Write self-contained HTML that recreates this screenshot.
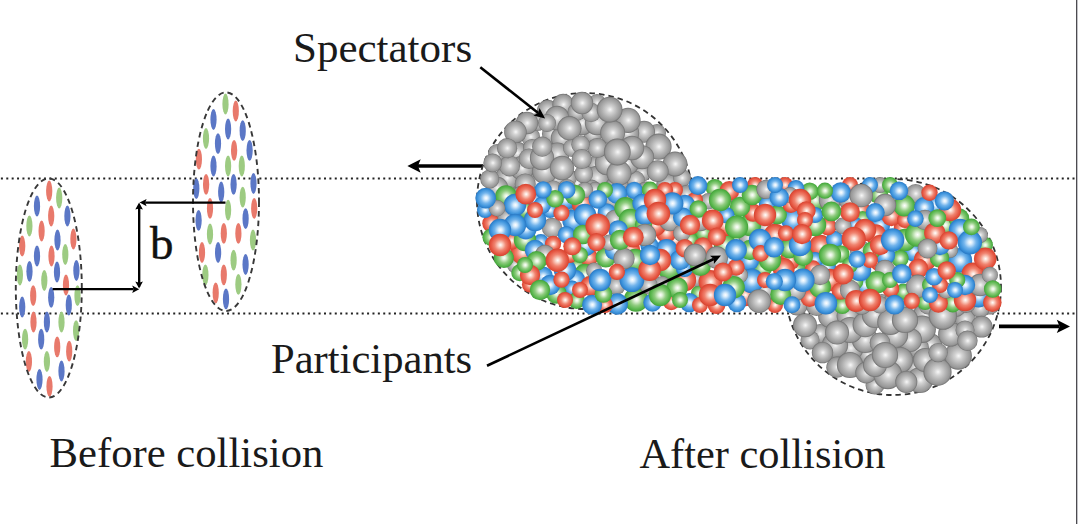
<!DOCTYPE html>
<html><head><meta charset="utf-8"><style>html,body{margin:0;padding:0;background:#fff;overflow:hidden}svg{display:block}</style></head>
<body><svg width="1078" height="524" viewBox="0 0 1078 524">
<defs><radialGradient id="g" cx="0.5" cy="0.5" r="0.5" fx="0.52" fy="0.5"><stop offset="0" stop-color="#f8f8f8"/><stop offset="0.25" stop-color="#d4d4d4"/><stop offset="0.6" stop-color="#b0b0b0"/><stop offset="0.88" stop-color="#969696"/><stop offset="1" stop-color="#6e6e6e"/></radialGradient><radialGradient id="r" cx="0.5" cy="0.5" r="0.5" fx="0.52" fy="0.5"><stop offset="0" stop-color="#ffffff"/><stop offset="0.18" stop-color="#fbd6ca"/><stop offset="0.5" stop-color="#f08470"/><stop offset="0.8" stop-color="#e65844"/><stop offset="1" stop-color="#d6432f"/></radialGradient><radialGradient id="n" cx="0.5" cy="0.5" r="0.5" fx="0.52" fy="0.5"><stop offset="0" stop-color="#ffffff"/><stop offset="0.18" stop-color="#e0f2d8"/><stop offset="0.5" stop-color="#90cc80"/><stop offset="0.8" stop-color="#5cb850"/><stop offset="1" stop-color="#43a239"/></radialGradient><radialGradient id="b" cx="0.5" cy="0.5" r="0.5" fx="0.52" fy="0.5"><stop offset="0" stop-color="#ffffff"/><stop offset="0.18" stop-color="#d8ecfc"/><stop offset="0.5" stop-color="#72b4ec"/><stop offset="0.8" stop-color="#3e94dc"/><stop offset="1" stop-color="#2978c4"/></radialGradient></defs>
<rect width="1078" height="524" fill="#fff"/>
<line x1="0" y1="178.5" x2="1075" y2="178.5" stroke="#222" stroke-width="2" stroke-dasharray="2 3.385" stroke-dashoffset="-0.9"/>
<line x1="0" y1="313.5" x2="1075" y2="313.5" stroke="#222" stroke-width="2" stroke-dasharray="2 3.385" stroke-dashoffset="-0.9"/>
<rect x="1076" y="0" width="1" height="524" fill="#4c4b50"/><rect x="1077" y="0" width="1" height="524" fill="#c2c2c6"/>
<ellipse cx="49.2" cy="191.0" rx="3.1" ry="10.4" fill="#e8796b"/>
<ellipse cx="59.2" cy="198.0" rx="3.1" ry="10.4" fill="#9dcb82"/>
<ellipse cx="37.0" cy="206.0" rx="3.1" ry="10.4" fill="#5b77c6"/>
<ellipse cx="51.2" cy="216.0" rx="3.1" ry="10.4" fill="#e8796b"/>
<ellipse cx="67.4" cy="216.0" rx="3.1" ry="10.4" fill="#5b77c6"/>
<ellipse cx="29.4" cy="226.0" rx="3.1" ry="10.4" fill="#9dcb82"/>
<ellipse cx="41.6" cy="231.0" rx="3.1" ry="10.4" fill="#e8796b"/>
<ellipse cx="57.5" cy="240.0" rx="3.1" ry="10.4" fill="#5b77c6"/>
<ellipse cx="73.4" cy="239.0" rx="3.1" ry="10.4" fill="#e8796b"/>
<ellipse cx="22.2" cy="246.0" rx="3.1" ry="10.4" fill="#e8796b"/>
<ellipse cx="37.0" cy="256.0" rx="3.1" ry="10.4" fill="#5b77c6"/>
<ellipse cx="51.5" cy="256.0" rx="3.1" ry="10.4" fill="#e8796b"/>
<ellipse cx="65.3" cy="254.5" rx="3.1" ry="10.4" fill="#9dcb82"/>
<ellipse cx="19.9" cy="275.0" rx="3.1" ry="10.4" fill="#9dcb82"/>
<ellipse cx="29.5" cy="271.3" rx="3.1" ry="10.4" fill="#5b77c6"/>
<ellipse cx="44.3" cy="280.5" rx="3.1" ry="10.4" fill="#9dcb82"/>
<ellipse cx="57.0" cy="272.0" rx="3.1" ry="10.4" fill="#5b77c6"/>
<ellipse cx="76.4" cy="270.5" rx="3.1" ry="10.4" fill="#5b77c6"/>
<ellipse cx="66.0" cy="285.0" rx="3.1" ry="10.4" fill="#e8796b"/>
<ellipse cx="33.2" cy="295.7" rx="3.1" ry="10.4" fill="#e8796b"/>
<ellipse cx="51.2" cy="297.3" rx="3.1" ry="10.4" fill="#5b77c6"/>
<ellipse cx="77.5" cy="295.7" rx="3.1" ry="10.4" fill="#9dcb82"/>
<ellipse cx="22.2" cy="307.0" rx="3.1" ry="10.4" fill="#5b77c6"/>
<ellipse cx="68.8" cy="305.0" rx="3.1" ry="10.4" fill="#5b77c6"/>
<ellipse cx="33.5" cy="322.0" rx="3.1" ry="10.4" fill="#e8796b"/>
<ellipse cx="46.9" cy="322.0" rx="3.1" ry="10.4" fill="#5b77c6"/>
<ellipse cx="61.5" cy="322.0" rx="3.1" ry="10.4" fill="#9dcb82"/>
<ellipse cx="25.1" cy="339.2" rx="3.1" ry="10.4" fill="#9dcb82"/>
<ellipse cx="41.2" cy="339.2" rx="3.1" ry="10.4" fill="#5b77c6"/>
<ellipse cx="76.1" cy="330.6" rx="3.1" ry="10.4" fill="#9dcb82"/>
<ellipse cx="57.2" cy="346.9" rx="3.1" ry="10.4" fill="#e8796b"/>
<ellipse cx="69.2" cy="351.2" rx="3.1" ry="10.4" fill="#e8796b"/>
<ellipse cx="28.9" cy="361.5" rx="3.1" ry="10.4" fill="#e8796b"/>
<ellipse cx="46.9" cy="361.5" rx="3.1" ry="10.4" fill="#9dcb82"/>
<ellipse cx="61.5" cy="371.0" rx="3.1" ry="10.4" fill="#5b77c6"/>
<ellipse cx="39.5" cy="379.5" rx="3.1" ry="10.4" fill="#5b77c6"/>
<ellipse cx="49.5" cy="386.4" rx="3.1" ry="10.4" fill="#e8796b"/>
<ellipse cx="48.8" cy="288" rx="33" ry="109.5" fill="none" stroke="#383838" stroke-width="1.9" stroke-dasharray="5.5 4"/>
<ellipse cx="225.5" cy="104.0" rx="3.1" ry="10.4" fill="#9dcb82"/>
<ellipse cx="235.8" cy="111.0" rx="3.1" ry="10.4" fill="#e8796b"/>
<ellipse cx="213.5" cy="119.5" rx="3.1" ry="10.4" fill="#5b77c6"/>
<ellipse cx="228.1" cy="129.0" rx="3.1" ry="10.4" fill="#5b77c6"/>
<ellipse cx="242.7" cy="130.7" rx="3.1" ry="10.4" fill="#5b77c6"/>
<ellipse cx="206.0" cy="138.5" rx="3.1" ry="10.4" fill="#9dcb82"/>
<ellipse cx="218.0" cy="143.6" rx="3.1" ry="10.4" fill="#5b77c6"/>
<ellipse cx="234.1" cy="150.4" rx="3.1" ry="10.4" fill="#e8796b"/>
<ellipse cx="249.6" cy="150.4" rx="3.1" ry="10.4" fill="#5b77c6"/>
<ellipse cx="198.9" cy="159.2" rx="3.1" ry="10.4" fill="#e8796b"/>
<ellipse cx="213.5" cy="166.0" rx="3.1" ry="10.4" fill="#5b77c6"/>
<ellipse cx="228.1" cy="166.0" rx="3.1" ry="10.4" fill="#9dcb82"/>
<ellipse cx="241.8" cy="166.0" rx="3.1" ry="10.4" fill="#9dcb82"/>
<ellipse cx="206.1" cy="184.4" rx="3.1" ry="10.4" fill="#e8796b"/>
<ellipse cx="196.3" cy="188.6" rx="3.1" ry="10.4" fill="#5b77c6"/>
<ellipse cx="233.6" cy="184.4" rx="3.1" ry="10.4" fill="#5b77c6"/>
<ellipse cx="253.5" cy="183.5" rx="3.1" ry="10.4" fill="#5b77c6"/>
<ellipse cx="221.2" cy="192.0" rx="3.1" ry="10.4" fill="#5b77c6"/>
<ellipse cx="242.7" cy="197.2" rx="3.1" ry="10.4" fill="#9dcb82"/>
<ellipse cx="210.0" cy="208.4" rx="3.1" ry="10.4" fill="#e8796b"/>
<ellipse cx="228.1" cy="210.1" rx="3.1" ry="10.4" fill="#9dcb82"/>
<ellipse cx="254.2" cy="208.4" rx="3.1" ry="10.4" fill="#e8796b"/>
<ellipse cx="198.6" cy="220.4" rx="3.1" ry="10.4" fill="#5b77c6"/>
<ellipse cx="245.6" cy="218.7" rx="3.1" ry="10.4" fill="#5b77c6"/>
<ellipse cx="210.0" cy="234.0" rx="3.1" ry="10.4" fill="#9dcb82"/>
<ellipse cx="223.8" cy="233.4" rx="3.1" ry="10.4" fill="#e8796b"/>
<ellipse cx="238.4" cy="233.4" rx="3.1" ry="10.4" fill="#e8796b"/>
<ellipse cx="253.0" cy="240.0" rx="3.1" ry="10.4" fill="#9dcb82"/>
<ellipse cx="202.0" cy="252.5" rx="3.1" ry="10.4" fill="#e8796b"/>
<ellipse cx="218.1" cy="252.5" rx="3.1" ry="10.4" fill="#5b77c6"/>
<ellipse cx="233.6" cy="260.2" rx="3.1" ry="10.4" fill="#9dcb82"/>
<ellipse cx="245.6" cy="264.5" rx="3.1" ry="10.4" fill="#5b77c6"/>
<ellipse cx="205.4" cy="274.8" rx="3.1" ry="10.4" fill="#9dcb82"/>
<ellipse cx="223.8" cy="274.8" rx="3.1" ry="10.4" fill="#e8796b"/>
<ellipse cx="238.4" cy="284.3" rx="3.1" ry="10.4" fill="#9dcb82"/>
<ellipse cx="215.7" cy="292.8" rx="3.1" ry="10.4" fill="#e8796b"/>
<ellipse cx="226.0" cy="298.9" rx="3.1" ry="10.4" fill="#5b77c6"/>
<ellipse cx="226" cy="201.7" rx="33" ry="109.3" fill="none" stroke="#383838" stroke-width="1.9" stroke-dasharray="5.5 4"/>
<line x1="52.7" y1="289.2" x2="133.6" y2="289.2" stroke="#000" stroke-width="2.3"/><path d="M139.2,289.2 L132.2,292.9 L133.6,289.2 L132.2,285.5 Z" fill="#000"/>
<line x1="139.1" y1="287" x2="139.1" y2="208.4" stroke="#000" stroke-width="2.2"/><path d="M139.1,202.6 L142.9,209.6 L139.1,208.4 L135.3,209.6 Z" fill="#000"/>
<line x1="139.1" y1="205" x2="139.1" y2="282.8" stroke="#000" stroke-width="2.2"/><path d="M139.1,288.6 L135.3,281.6 L139.1,282.8 L142.9,281.6 Z" fill="#000"/>
<line x1="225.5" y1="202.6" x2="145.2" y2="202.6" stroke="#000" stroke-width="2.3"/><path d="M139.6,202.6 L146.6,199.0 L145.2,202.6 L146.6,206.2 Z" fill="#000"/>
<text x="150" y="259" font-family="'Liberation Serif', serif" font-size="47" fill="#111" stroke="#111" stroke-width="0.4">b</text>
<line x1="483" y1="166" x2="417.9" y2="166.0" stroke="#000" stroke-width="3.6"/><path d="M407.4,166.0 L420.7,159.2 L417.9,166.0 L420.7,172.8 Z" fill="#000"/>
<circle cx="585" cy="201" r="108" fill="none" stroke="#333" stroke-width="1.8" stroke-dasharray="5.5 4"/>
<circle cx="893" cy="287" r="108" fill="none" stroke="#333" stroke-width="1.8" stroke-dasharray="5.5 4"/>
<circle cx="642.0" cy="173.0" r="9.0" fill="url(#g)"/>
<circle cx="592.8" cy="134.0" r="9.3" fill="url(#g)"/>
<circle cx="497.0" cy="153.0" r="9.0" fill="url(#g)"/>
<circle cx="552.0" cy="133.8" r="10.1" fill="url(#g)"/>
<circle cx="562.0" cy="138.0" r="11.2" fill="url(#g)"/>
<circle cx="596.1" cy="164.8" r="9.1" fill="url(#g)"/>
<circle cx="577.0" cy="183.0" r="12.2" fill="url(#g)"/>
<circle cx="602.0" cy="193.0" r="11.2" fill="url(#g)"/>
<circle cx="567.3" cy="177.8" r="9.5" fill="url(#g)"/>
<circle cx="547.6" cy="110.4" r="10.6" fill="url(#g)"/>
<circle cx="557.0" cy="178.0" r="9.0" fill="url(#g)"/>
<circle cx="582.0" cy="123.0" r="12.2" fill="url(#g)"/>
<circle cx="597.0" cy="103.0" r="9.0" fill="url(#g)"/>
<circle cx="517.0" cy="153.0" r="11.2" fill="url(#g)"/>
<circle cx="682.8" cy="197.4" r="9.7" fill="url(#g)"/>
<circle cx="530.5" cy="136.8" r="9.6" fill="url(#g)"/>
<circle cx="667.8" cy="184.8" r="11.5" fill="url(#g)"/>
<circle cx="597.0" cy="178.0" r="12.2" fill="url(#g)"/>
<circle cx="537.0" cy="183.0" r="12.2" fill="url(#g)"/>
<circle cx="657.0" cy="133.0" r="9.0" fill="url(#g)"/>
<circle cx="509.6" cy="194.3" r="9.6" fill="url(#g)"/>
<circle cx="507.0" cy="178.0" r="12.2" fill="url(#g)"/>
<circle cx="490.5" cy="196.0" r="9.2" fill="url(#g)"/>
<circle cx="607.0" cy="163.0" r="12.2" fill="url(#g)"/>
<circle cx="497.0" cy="188.0" r="11.2" fill="url(#g)"/>
<circle cx="489.7" cy="179.0" r="9.5" fill="url(#g)"/>
<circle cx="635.4" cy="180.1" r="9.4" fill="url(#g)"/>
<circle cx="522.0" cy="168.0" r="12.2" fill="url(#g)"/>
<circle cx="682.0" cy="178.0" r="9.0" fill="url(#g)"/>
<circle cx="644.0" cy="131.8" r="11.0" fill="url(#g)"/>
<circle cx="544.8" cy="170.9" r="12.9" fill="url(#g)"/>
<circle cx="563.2" cy="104.6" r="10.8" fill="url(#g)"/>
<circle cx="597.0" cy="123.0" r="12.2" fill="url(#g)"/>
<circle cx="532.0" cy="148.0" r="9.0" fill="url(#g)"/>
<circle cx="509.6" cy="165.9" r="10.5" fill="url(#g)"/>
<circle cx="557.0" cy="118.0" r="12.2" fill="url(#g)"/>
<circle cx="627.0" cy="133.0" r="12.2" fill="url(#g)"/>
<circle cx="658.5" cy="146.7" r="13.1" fill="url(#g)"/>
<circle cx="577.0" cy="198.0" r="12.2" fill="url(#g)"/>
<circle cx="576.7" cy="111.8" r="9.1" fill="url(#g)"/>
<circle cx="562.7" cy="202.3" r="11.6" fill="url(#g)"/>
<circle cx="529.0" cy="158.7" r="10.3" fill="url(#g)"/>
<circle cx="627.0" cy="163.0" r="12.2" fill="url(#g)"/>
<circle cx="537.4" cy="122.0" r="9.1" fill="url(#g)"/>
<circle cx="667.7" cy="201.4" r="9.6" fill="url(#g)"/>
<circle cx="553.2" cy="189.5" r="9.1" fill="url(#g)"/>
<circle cx="612.5" cy="199.1" r="10.0" fill="url(#g)"/>
<circle cx="557.4" cy="154.3" r="11.9" fill="url(#g)"/>
<circle cx="591.1" cy="112.5" r="9.7" fill="url(#g)"/>
<circle cx="492.6" cy="162.9" r="9.3" fill="url(#g)"/>
<circle cx="628.0" cy="120.3" r="12.6" fill="url(#g)"/>
<circle cx="572.0" cy="148.0" r="9.0" fill="url(#g)"/>
<circle cx="675.0" cy="164.0" r="12.4" fill="url(#g)"/>
<circle cx="631.9" cy="202.8" r="9.4" fill="url(#g)"/>
<circle cx="582.0" cy="103.0" r="11.2" fill="url(#g)"/>
<circle cx="542.0" cy="158.0" r="12.2" fill="url(#g)"/>
<circle cx="562.0" cy="168.0" r="12.2" fill="url(#g)"/>
<circle cx="567.0" cy="188.0" r="9.0" fill="url(#g)"/>
<circle cx="590.4" cy="191.0" r="11.6" fill="url(#g)"/>
<circle cx="547.0" cy="123.0" r="9.0" fill="url(#g)"/>
<circle cx="646.3" cy="193.5" r="12.0" fill="url(#g)"/>
<circle cx="612.6" cy="132.8" r="12.5" fill="url(#g)"/>
<circle cx="597.2" cy="148.0" r="10.1" fill="url(#g)"/>
<circle cx="527.0" cy="123.0" r="11.2" fill="url(#g)"/>
<circle cx="525.2" cy="183.9" r="10.5" fill="url(#g)"/>
<circle cx="617.0" cy="188.0" r="12.2" fill="url(#g)"/>
<circle cx="619.0" cy="173.2" r="12.4" fill="url(#g)"/>
<circle cx="642.1" cy="157.2" r="12.0" fill="url(#g)"/>
<circle cx="569.4" cy="128.2" r="12.1" fill="url(#g)"/>
<circle cx="522.0" cy="198.0" r="12.2" fill="url(#g)"/>
<circle cx="539.2" cy="202.8" r="12.3" fill="url(#g)"/>
<circle cx="580.5" cy="144.5" r="9.2" fill="url(#g)"/>
<circle cx="515.4" cy="131.9" r="11.3" fill="url(#g)"/>
<circle cx="583.7" cy="173.8" r="9.4" fill="url(#g)"/>
<circle cx="542.2" cy="146.7" r="10.1" fill="url(#g)"/>
<circle cx="609.6" cy="109.6" r="12.9" fill="url(#g)"/>
<circle cx="632.0" cy="193.0" r="9.0" fill="url(#g)"/>
<circle cx="581.8" cy="159.0" r="10.1" fill="url(#g)"/>
<circle cx="657.7" cy="171.1" r="10.9" fill="url(#g)"/>
<circle cx="632.0" cy="148.0" r="12.2" fill="url(#g)"/>
<circle cx="507.1" cy="148.2" r="10.1" fill="url(#g)"/>
<circle cx="617.3" cy="152.0" r="13.4" fill="url(#g)"/>
<circle cx="881.8" cy="304.4" r="10.4" fill="url(#g)"/>
<circle cx="930.0" cy="345.0" r="12.0" fill="url(#g)"/>
<circle cx="867.6" cy="354.5" r="9.5" fill="url(#g)"/>
<circle cx="835.0" cy="305.0" r="12.0" fill="url(#g)"/>
<circle cx="850.4" cy="348.1" r="13.1" fill="url(#g)"/>
<circle cx="912.0" cy="307.4" r="11.7" fill="url(#g)"/>
<circle cx="925.0" cy="315.0" r="12.0" fill="url(#g)"/>
<circle cx="958.1" cy="355.9" r="13.8" fill="url(#g)"/>
<circle cx="918.4" cy="347.9" r="10.6" fill="url(#g)"/>
<circle cx="820.0" cy="333.8" r="9.7" fill="url(#g)"/>
<circle cx="835.0" cy="345.0" r="13.1" fill="url(#g)"/>
<circle cx="916.0" cy="367.7" r="11.5" fill="url(#g)"/>
<circle cx="895.0" cy="305.0" r="13.1" fill="url(#g)"/>
<circle cx="990.0" cy="305.0" r="9.5" fill="url(#g)"/>
<circle cx="797.1" cy="304.7" r="10.8" fill="url(#g)"/>
<circle cx="865.0" cy="340.0" r="13.1" fill="url(#g)"/>
<circle cx="829.9" cy="316.2" r="11.7" fill="url(#g)"/>
<circle cx="847.9" cy="315.8" r="11.3" fill="url(#g)"/>
<circle cx="895.2" cy="348.4" r="11.1" fill="url(#g)"/>
<circle cx="965.2" cy="319.0" r="10.6" fill="url(#g)"/>
<circle cx="875.0" cy="385.0" r="9.5" fill="url(#g)"/>
<circle cx="920.0" cy="380.0" r="13.1" fill="url(#g)"/>
<circle cx="928.4" cy="304.3" r="10.3" fill="url(#g)"/>
<circle cx="850.0" cy="330.0" r="13.1" fill="url(#g)"/>
<circle cx="810.0" cy="340.0" r="9.5" fill="url(#g)"/>
<circle cx="922.2" cy="329.2" r="13.7" fill="url(#g)"/>
<circle cx="925.0" cy="360.0" r="12.0" fill="url(#g)"/>
<circle cx="955.0" cy="305.0" r="12.0" fill="url(#g)"/>
<circle cx="910.0" cy="340.0" r="12.0" fill="url(#g)"/>
<circle cx="836.9" cy="367.2" r="10.6" fill="url(#g)"/>
<circle cx="816.5" cy="305.4" r="10.6" fill="url(#g)"/>
<circle cx="950.5" cy="334.2" r="12.4" fill="url(#g)"/>
<circle cx="980.1" cy="308.1" r="9.6" fill="url(#g)"/>
<circle cx="822.5" cy="352.6" r="10.7" fill="url(#g)"/>
<circle cx="900.0" cy="360.0" r="13.1" fill="url(#g)"/>
<circle cx="865.2" cy="324.7" r="12.6" fill="url(#g)"/>
<circle cx="895.0" cy="335.0" r="13.1" fill="url(#g)"/>
<circle cx="880.0" cy="342.8" r="10.3" fill="url(#g)"/>
<circle cx="875.0" cy="315.0" r="13.1" fill="url(#g)"/>
<circle cx="850.0" cy="365.0" r="13.1" fill="url(#g)"/>
<circle cx="866.1" cy="372.6" r="10.8" fill="url(#g)"/>
<circle cx="837.0" cy="332.6" r="12.0" fill="url(#g)"/>
<circle cx="942.8" cy="315.6" r="14.2" fill="url(#g)"/>
<circle cx="861.7" cy="304.4" r="10.3" fill="url(#g)"/>
<circle cx="937.5" cy="371.9" r="14.1" fill="url(#g)"/>
<circle cx="981.6" cy="326.7" r="10.9" fill="url(#g)"/>
<circle cx="965.0" cy="330.0" r="9.5" fill="url(#g)"/>
<circle cx="887.8" cy="374.8" r="14.4" fill="url(#g)"/>
<circle cx="966.1" cy="302.5" r="10.4" fill="url(#g)"/>
<circle cx="906.3" cy="381.9" r="11.0" fill="url(#g)"/>
<circle cx="967.4" cy="340.8" r="10.2" fill="url(#g)"/>
<circle cx="938.1" cy="352.6" r="9.7" fill="url(#g)"/>
<circle cx="805.0" cy="325.2" r="12.0" fill="url(#g)"/>
<circle cx="875.0" cy="365.0" r="12.0" fill="url(#g)"/>
<circle cx="885.0" cy="355.0" r="13.1" fill="url(#g)"/>
<circle cx="890.3" cy="321.9" r="13.1" fill="url(#g)"/>
<circle cx="905.0" cy="320.0" r="13.1" fill="url(#g)"/>
<circle cx="616.3" cy="285.7" r="9.3" fill="url(#g)"/>
<circle cx="795.0" cy="270.0" r="11.2" fill="url(#n)"/>
<circle cx="880.0" cy="225.0" r="10.2" fill="url(#b)"/>
<circle cx="865.0" cy="285.0" r="11.2" fill="url(#b)"/>
<circle cx="576.4" cy="267.1" r="9.4" fill="url(#n)"/>
<circle cx="903.4" cy="291.7" r="8.1" fill="url(#n)"/>
<circle cx="765.0" cy="290.0" r="11.2" fill="url(#g)"/>
<circle cx="826.5" cy="267.4" r="9.6" fill="url(#b)"/>
<circle cx="855.2" cy="281.5" r="8.1" fill="url(#n)"/>
<circle cx="699.1" cy="293.4" r="8.2" fill="url(#n)"/>
<circle cx="820.4" cy="246.1" r="11.4" fill="url(#r)"/>
<circle cx="675.0" cy="240.0" r="10.2" fill="url(#r)"/>
<circle cx="913.3" cy="251.7" r="9.7" fill="url(#b)"/>
<circle cx="714.8" cy="188.0" r="9.1" fill="url(#n)"/>
<circle cx="879.0" cy="262.5" r="8.7" fill="url(#r)"/>
<circle cx="695.7" cy="278.7" r="8.0" fill="url(#g)"/>
<circle cx="710.4" cy="281.8" r="11.9" fill="url(#r)"/>
<circle cx="902.2" cy="228.1" r="8.5" fill="url(#r)"/>
<circle cx="762.1" cy="268.3" r="9.8" fill="url(#n)"/>
<circle cx="552.1" cy="227.9" r="10.2" fill="url(#g)"/>
<circle cx="749.0" cy="260.6" r="10.2" fill="url(#b)"/>
<circle cx="491.6" cy="223.3" r="9.4" fill="url(#r)"/>
<circle cx="900.0" cy="258.5" r="8.7" fill="url(#n)"/>
<circle cx="745.0" cy="295.0" r="11.2" fill="url(#r)"/>
<circle cx="725.0" cy="245.0" r="11.2" fill="url(#n)"/>
<circle cx="540.9" cy="242.3" r="8.2" fill="url(#b)"/>
<circle cx="925.0" cy="260.0" r="11.2" fill="url(#r)"/>
<circle cx="589.1" cy="257.7" r="9.0" fill="url(#r)"/>
<circle cx="891.5" cy="216.2" r="10.0" fill="url(#r)"/>
<circle cx="515.0" cy="265.0" r="8.0" fill="url(#g)"/>
<circle cx="606.7" cy="212.2" r="9.0" fill="url(#b)"/>
<circle cx="815.0" cy="260.0" r="8.0" fill="url(#b)"/>
<circle cx="703.4" cy="232.6" r="8.6" fill="url(#n)"/>
<circle cx="666.1" cy="232.7" r="10.3" fill="url(#r)"/>
<circle cx="700.0" cy="220.0" r="11.2" fill="url(#g)"/>
<circle cx="585.0" cy="275.0" r="11.2" fill="url(#n)"/>
<circle cx="522.4" cy="252.3" r="12.1" fill="url(#r)"/>
<circle cx="878.7" cy="194.6" r="9.5" fill="url(#n)"/>
<circle cx="978.5" cy="296.4" r="11.0" fill="url(#b)"/>
<circle cx="925.1" cy="301.8" r="8.3" fill="url(#n)"/>
<circle cx="815.0" cy="200.0" r="11.2" fill="url(#n)"/>
<circle cx="655.0" cy="225.0" r="11.2" fill="url(#r)"/>
<circle cx="860.0" cy="210.0" r="10.2" fill="url(#r)"/>
<circle cx="636.1" cy="299.5" r="12.2" fill="url(#n)"/>
<circle cx="685.0" cy="280.0" r="11.2" fill="url(#r)"/>
<circle cx="530.0" cy="284.4" r="8.1" fill="url(#r)"/>
<circle cx="506.7" cy="218.2" r="9.2" fill="url(#g)"/>
<circle cx="670.0" cy="220.0" r="11.2" fill="url(#g)"/>
<circle cx="830.0" cy="280.0" r="11.2" fill="url(#r)"/>
<circle cx="749.1" cy="237.8" r="10.5" fill="url(#g)"/>
<circle cx="905.0" cy="220.0" r="8.0" fill="url(#r)"/>
<circle cx="905.0" cy="240.0" r="11.2" fill="url(#n)"/>
<circle cx="511.7" cy="240.6" r="9.1" fill="url(#r)"/>
<circle cx="809.7" cy="297.7" r="9.2" fill="url(#r)"/>
<circle cx="669.1" cy="267.9" r="11.9" fill="url(#n)"/>
<circle cx="765.6" cy="227.4" r="10.2" fill="url(#g)"/>
<circle cx="785.0" cy="185.0" r="8.0" fill="url(#r)"/>
<circle cx="860.0" cy="250.0" r="10.2" fill="url(#g)"/>
<circle cx="880.0" cy="185.0" r="8.0" fill="url(#g)"/>
<circle cx="740.0" cy="195.0" r="11.2" fill="url(#g)"/>
<circle cx="716.5" cy="305.1" r="8.9" fill="url(#r)"/>
<circle cx="525.0" cy="240.0" r="11.2" fill="url(#n)"/>
<circle cx="575.0" cy="280.0" r="10.2" fill="url(#b)"/>
<circle cx="862.6" cy="219.8" r="8.9" fill="url(#n)"/>
<circle cx="573.4" cy="220.6" r="11.1" fill="url(#b)"/>
<circle cx="952.8" cy="302.9" r="9.5" fill="url(#n)"/>
<circle cx="652.5" cy="302.6" r="9.2" fill="url(#b)"/>
<circle cx="684.6" cy="268.4" r="8.7" fill="url(#b)"/>
<circle cx="565.0" cy="200.0" r="10.2" fill="url(#b)"/>
<circle cx="690.0" cy="240.0" r="8.0" fill="url(#n)"/>
<circle cx="686.5" cy="194.8" r="9.7" fill="url(#g)"/>
<circle cx="965.0" cy="300.0" r="11.2" fill="url(#r)"/>
<circle cx="506.1" cy="196.2" r="10.9" fill="url(#n)"/>
<circle cx="615.0" cy="220.0" r="10.2" fill="url(#g)"/>
<circle cx="830.0" cy="200.0" r="11.2" fill="url(#g)"/>
<circle cx="572.0" cy="288.7" r="8.1" fill="url(#b)"/>
<circle cx="885.0" cy="255.0" r="10.2" fill="url(#b)"/>
<circle cx="850.0" cy="200.0" r="11.2" fill="url(#g)"/>
<circle cx="524.8" cy="209.5" r="9.5" fill="url(#n)"/>
<circle cx="890.7" cy="288.7" r="8.6" fill="url(#r)"/>
<circle cx="634.2" cy="190.4" r="8.7" fill="url(#b)"/>
<circle cx="730.0" cy="260.0" r="10.2" fill="url(#b)"/>
<circle cx="519.8" cy="272.8" r="8.5" fill="url(#n)"/>
<circle cx="725.0" cy="225.0" r="11.2" fill="url(#r)"/>
<circle cx="842.3" cy="305.4" r="8.7" fill="url(#n)"/>
<circle cx="935.0" cy="205.0" r="10.2" fill="url(#b)"/>
<circle cx="595.0" cy="190.0" r="8.0" fill="url(#g)"/>
<circle cx="938.4" cy="303.2" r="9.5" fill="url(#r)"/>
<circle cx="750.0" cy="225.0" r="11.2" fill="url(#n)"/>
<circle cx="790.0" cy="260.0" r="10.2" fill="url(#r)"/>
<circle cx="666.5" cy="249.9" r="11.0" fill="url(#b)"/>
<circle cx="617.2" cy="304.0" r="10.7" fill="url(#b)"/>
<circle cx="751.5" cy="280.8" r="12.3" fill="url(#b)"/>
<circle cx="543.0" cy="276.4" r="10.0" fill="url(#b)"/>
<circle cx="775.0" cy="235.0" r="11.2" fill="url(#r)"/>
<circle cx="550.0" cy="210.0" r="8.0" fill="url(#b)"/>
<circle cx="689.4" cy="302.6" r="9.7" fill="url(#b)"/>
<circle cx="809.7" cy="191.2" r="8.8" fill="url(#n)"/>
<circle cx="681.7" cy="233.1" r="8.6" fill="url(#g)"/>
<circle cx="915.6" cy="193.6" r="9.7" fill="url(#g)"/>
<circle cx="959.9" cy="260.4" r="12.3" fill="url(#b)"/>
<circle cx="972.9" cy="274.1" r="11.5" fill="url(#r)"/>
<circle cx="565.0" cy="270.0" r="11.2" fill="url(#b)"/>
<circle cx="946.0" cy="290.6" r="8.0" fill="url(#g)"/>
<circle cx="753.1" cy="212.7" r="9.1" fill="url(#r)"/>
<circle cx="917.1" cy="234.6" r="12.2" fill="url(#n)"/>
<circle cx="740.0" cy="275.0" r="8.0" fill="url(#g)"/>
<circle cx="703.0" cy="247.0" r="9.7" fill="url(#r)"/>
<circle cx="708.6" cy="201.2" r="8.3" fill="url(#g)"/>
<circle cx="556.3" cy="293.5" r="10.3" fill="url(#n)"/>
<circle cx="750.0" cy="250.0" r="10.2" fill="url(#n)"/>
<circle cx="767.1" cy="204.1" r="8.3" fill="url(#b)"/>
<circle cx="950.0" cy="250.0" r="8.0" fill="url(#g)"/>
<circle cx="582.8" cy="203.2" r="11.1" fill="url(#r)"/>
<circle cx="795.9" cy="188.6" r="8.5" fill="url(#b)"/>
<circle cx="736.9" cy="302.8" r="9.4" fill="url(#b)"/>
<circle cx="992.3" cy="302.6" r="9.3" fill="url(#r)"/>
<circle cx="904.2" cy="205.6" r="10.9" fill="url(#n)"/>
<circle cx="700.0" cy="305.0" r="8.0" fill="url(#r)"/>
<circle cx="855.0" cy="225.0" r="8.0" fill="url(#b)"/>
<circle cx="675.0" cy="190.0" r="8.0" fill="url(#r)"/>
<circle cx="985.0" cy="245.0" r="8.0" fill="url(#n)"/>
<circle cx="945.0" cy="225.0" r="11.2" fill="url(#n)"/>
<circle cx="890.0" cy="185.0" r="8.0" fill="url(#n)"/>
<circle cx="535.0" cy="250.0" r="10.2" fill="url(#b)"/>
<circle cx="695.0" cy="200.0" r="8.0" fill="url(#r)"/>
<circle cx="918.3" cy="268.4" r="9.9" fill="url(#r)"/>
<circle cx="875.7" cy="234.8" r="10.6" fill="url(#r)"/>
<circle cx="879.6" cy="304.7" r="8.7" fill="url(#g)"/>
<circle cx="793.0" cy="219.8" r="11.9" fill="url(#b)"/>
<circle cx="729.3" cy="190.9" r="9.9" fill="url(#r)"/>
<circle cx="755.0" cy="185.0" r="8.0" fill="url(#r)"/>
<circle cx="550.0" cy="285.0" r="10.2" fill="url(#b)"/>
<circle cx="777.4" cy="214.8" r="9.5" fill="url(#n)"/>
<circle cx="585.0" cy="245.0" r="11.2" fill="url(#b)"/>
<circle cx="685.0" cy="205.0" r="10.2" fill="url(#b)"/>
<circle cx="585.0" cy="190.0" r="8.0" fill="url(#g)"/>
<circle cx="871.8" cy="250.5" r="9.0" fill="url(#n)"/>
<circle cx="765.0" cy="280.0" r="8.0" fill="url(#r)"/>
<circle cx="885.0" cy="270.0" r="10.2" fill="url(#g)"/>
<circle cx="834.7" cy="239.6" r="8.8" fill="url(#b)"/>
<circle cx="525.8" cy="228.7" r="10.8" fill="url(#b)"/>
<circle cx="700.5" cy="265.6" r="10.5" fill="url(#n)"/>
<circle cx="790.9" cy="204.4" r="8.5" fill="url(#r)"/>
<circle cx="566.3" cy="234.6" r="8.6" fill="url(#b)"/>
<circle cx="775.0" cy="305.0" r="8.0" fill="url(#r)"/>
<circle cx="515.0" cy="205.0" r="11.2" fill="url(#b)"/>
<circle cx="616.8" cy="193.5" r="10.4" fill="url(#b)"/>
<circle cx="827.7" cy="226.5" r="8.9" fill="url(#r)"/>
<circle cx="917.7" cy="286.3" r="11.7" fill="url(#g)"/>
<circle cx="576.6" cy="300.5" r="8.4" fill="url(#n)"/>
<circle cx="765.0" cy="215.0" r="11.2" fill="url(#r)"/>
<circle cx="876.9" cy="282.2" r="11.3" fill="url(#n)"/>
<circle cx="625.3" cy="208.1" r="11.0" fill="url(#n)"/>
<circle cx="789.2" cy="248.4" r="10.0" fill="url(#n)"/>
<circle cx="650.1" cy="189.9" r="8.3" fill="url(#n)"/>
<circle cx="850.0" cy="185.0" r="8.0" fill="url(#r)"/>
<circle cx="665.0" cy="190.0" r="8.0" fill="url(#r)"/>
<circle cx="865.0" cy="230.0" r="11.2" fill="url(#r)"/>
<circle cx="680.0" cy="260.0" r="10.2" fill="url(#b)"/>
<circle cx="605.0" cy="305.0" r="8.0" fill="url(#r)"/>
<circle cx="642.0" cy="203.5" r="9.7" fill="url(#b)"/>
<circle cx="790.0" cy="195.0" r="8.0" fill="url(#g)"/>
<circle cx="980.0" cy="285.0" r="11.2" fill="url(#g)"/>
<circle cx="485.0" cy="210.0" r="8.0" fill="url(#b)"/>
<circle cx="840.4" cy="291.0" r="8.8" fill="url(#r)"/>
<circle cx="880.0" cy="245.0" r="10.2" fill="url(#r)"/>
<circle cx="716.7" cy="257.6" r="11.3" fill="url(#g)"/>
<circle cx="760.0" cy="240.0" r="11.2" fill="url(#b)"/>
<circle cx="491.1" cy="237.2" r="8.7" fill="url(#n)"/>
<circle cx="662.0" cy="285.0" r="9.0" fill="url(#g)"/>
<circle cx="649.4" cy="245.4" r="9.0" fill="url(#b)"/>
<circle cx="630.0" cy="250.0" r="10.2" fill="url(#r)"/>
<circle cx="682.8" cy="217.4" r="9.8" fill="url(#b)"/>
<circle cx="985.2" cy="258.8" r="11.3" fill="url(#r)"/>
<circle cx="820.0" cy="286.8" r="10.9" fill="url(#n)"/>
<circle cx="605.0" cy="190.0" r="8.0" fill="url(#n)"/>
<circle cx="671.3" cy="301.9" r="8.4" fill="url(#r)"/>
<circle cx="590.5" cy="286.0" r="10.2" fill="url(#r)"/>
<circle cx="815.0" cy="225.0" r="11.2" fill="url(#n)"/>
<circle cx="736.2" cy="267.3" r="8.5" fill="url(#r)"/>
<circle cx="597.8" cy="199.4" r="9.3" fill="url(#b)"/>
<circle cx="958.9" cy="218.6" r="10.4" fill="url(#n)"/>
<circle cx="939.5" cy="258.0" r="9.7" fill="url(#n)"/>
<circle cx="535.0" cy="200.0" r="8.0" fill="url(#b)"/>
<circle cx="840.7" cy="192.5" r="10.2" fill="url(#b)"/>
<circle cx="535.0" cy="220.0" r="11.2" fill="url(#b)"/>
<circle cx="870.0" cy="185.0" r="8.0" fill="url(#b)"/>
<circle cx="860.0" cy="270.0" r="11.2" fill="url(#b)"/>
<circle cx="924.2" cy="207.1" r="10.1" fill="url(#b)"/>
<circle cx="894.6" cy="304.7" r="9.9" fill="url(#b)"/>
<circle cx="825.9" cy="303.2" r="11.3" fill="url(#b)"/>
<circle cx="575.0" cy="195.0" r="10.2" fill="url(#n)"/>
<circle cx="795.0" cy="290.0" r="11.2" fill="url(#g)"/>
<circle cx="740.0" cy="206.9" r="10.2" fill="url(#n)"/>
<circle cx="630.0" cy="220.0" r="11.2" fill="url(#n)"/>
<circle cx="752.0" cy="195.0" r="10.3" fill="url(#n)"/>
<circle cx="643.5" cy="224.6" r="8.6" fill="url(#n)"/>
<circle cx="570.0" cy="255.0" r="8.0" fill="url(#r)"/>
<circle cx="677.1" cy="287.9" r="10.7" fill="url(#n)"/>
<circle cx="813.0" cy="268.4" r="8.1" fill="url(#r)"/>
<circle cx="759.1" cy="301.1" r="11.9" fill="url(#g)"/>
<circle cx="824.9" cy="190.7" r="8.1" fill="url(#n)"/>
<circle cx="698.3" cy="209.0" r="8.7" fill="url(#n)"/>
<circle cx="930.0" cy="285.0" r="8.0" fill="url(#n)"/>
<circle cx="925.0" cy="220.0" r="10.2" fill="url(#g)"/>
<circle cx="684.8" cy="248.2" r="9.2" fill="url(#r)"/>
<circle cx="892.6" cy="239.9" r="11.7" fill="url(#b)"/>
<circle cx="592.1" cy="304.7" r="10.0" fill="url(#b)"/>
<circle cx="733.5" cy="287.2" r="11.3" fill="url(#n)"/>
<circle cx="843.0" cy="225.9" r="8.4" fill="url(#g)"/>
<circle cx="594.2" cy="270.6" r="8.1" fill="url(#g)"/>
<circle cx="726.4" cy="215.3" r="8.2" fill="url(#b)"/>
<circle cx="989.9" cy="274.9" r="8.1" fill="url(#g)"/>
<circle cx="561.4" cy="212.9" r="8.1" fill="url(#r)"/>
<circle cx="885.0" cy="205.0" r="11.2" fill="url(#g)"/>
<circle cx="515.0" cy="225.0" r="11.2" fill="url(#b)"/>
<circle cx="861.2" cy="195.5" r="11.8" fill="url(#g)"/>
<circle cx="553.1" cy="243.8" r="8.1" fill="url(#r)"/>
<circle cx="940.0" cy="285.0" r="8.0" fill="url(#r)"/>
<circle cx="950.0" cy="210.0" r="11.2" fill="url(#r)"/>
<circle cx="820.0" cy="275.0" r="10.2" fill="url(#g)"/>
<circle cx="545.0" cy="255.0" r="10.2" fill="url(#g)"/>
<circle cx="618.1" cy="230.0" r="9.8" fill="url(#b)"/>
<circle cx="542.3" cy="205.0" r="8.7" fill="url(#b)"/>
<circle cx="605.8" cy="257.4" r="10.2" fill="url(#n)"/>
<circle cx="736.6" cy="227.0" r="11.6" fill="url(#n)"/>
<circle cx="580.0" cy="290.0" r="8.0" fill="url(#r)"/>
<circle cx="929.5" cy="192.8" r="8.2" fill="url(#r)"/>
<circle cx="500.0" cy="230.0" r="11.2" fill="url(#b)"/>
<circle cx="815.0" cy="215.0" r="8.0" fill="url(#b)"/>
<circle cx="615.0" cy="250.0" r="10.2" fill="url(#b)"/>
<circle cx="850.0" cy="212.1" r="9.9" fill="url(#r)"/>
<circle cx="853.7" cy="238.9" r="12.1" fill="url(#r)"/>
<circle cx="766.1" cy="189.4" r="9.7" fill="url(#g)"/>
<circle cx="710.0" cy="295.0" r="11.2" fill="url(#r)"/>
<circle cx="940.0" cy="245.0" r="10.2" fill="url(#b)"/>
<circle cx="566.7" cy="189.8" r="8.8" fill="url(#b)"/>
<circle cx="944.4" cy="200.9" r="9.6" fill="url(#b)"/>
<circle cx="648.6" cy="285.4" r="9.1" fill="url(#g)"/>
<circle cx="680.0" cy="300.0" r="8.0" fill="url(#n)"/>
<circle cx="930.0" cy="295.0" r="8.0" fill="url(#b)"/>
<circle cx="660.0" cy="260.0" r="11.2" fill="url(#r)"/>
<circle cx="536.6" cy="261.0" r="9.9" fill="url(#n)"/>
<circle cx="740.0" cy="185.0" r="8.0" fill="url(#b)"/>
<circle cx="783.7" cy="268.9" r="10.9" fill="url(#r)"/>
<circle cx="803.2" cy="256.0" r="10.0" fill="url(#n)"/>
<circle cx="850.0" cy="290.0" r="10.2" fill="url(#g)"/>
<circle cx="840.7" cy="254.0" r="8.8" fill="url(#n)"/>
<circle cx="635.0" cy="260.0" r="11.2" fill="url(#n)"/>
<circle cx="503.8" cy="257.9" r="10.1" fill="url(#n)"/>
<circle cx="965.0" cy="285.0" r="10.2" fill="url(#b)"/>
<circle cx="980.0" cy="235.0" r="8.0" fill="url(#g)"/>
<circle cx="875.2" cy="212.6" r="9.5" fill="url(#b)"/>
<circle cx="802.8" cy="280.2" r="11.8" fill="url(#b)"/>
<circle cx="800.0" cy="200.0" r="11.2" fill="url(#r)"/>
<circle cx="915.4" cy="218.6" r="8.3" fill="url(#b)"/>
<circle cx="497.0" cy="208.2" r="8.3" fill="url(#g)"/>
<circle cx="780.7" cy="294.4" r="10.5" fill="url(#n)"/>
<circle cx="792.0" cy="304.7" r="8.5" fill="url(#b)"/>
<circle cx="720.0" cy="200.0" r="11.2" fill="url(#n)"/>
<circle cx="603.4" cy="294.0" r="8.8" fill="url(#n)"/>
<circle cx="890.0" cy="280.0" r="8.0" fill="url(#n)"/>
<circle cx="723.0" cy="272.0" r="9.6" fill="url(#r)"/>
<circle cx="785.0" cy="280.0" r="11.2" fill="url(#b)"/>
<circle cx="899.0" cy="190.8" r="9.3" fill="url(#b)"/>
<circle cx="697.9" cy="185.6" r="9.5" fill="url(#b)"/>
<circle cx="957.2" cy="280.0" r="8.1" fill="url(#n)"/>
<circle cx="725.0" cy="295.0" r="11.2" fill="url(#b)"/>
<circle cx="530.0" cy="275.0" r="10.2" fill="url(#r)"/>
<circle cx="856.2" cy="300.9" r="11.0" fill="url(#r)"/>
<circle cx="934.0" cy="276.8" r="8.8" fill="url(#b)"/>
<circle cx="540.0" cy="290.0" r="10.2" fill="url(#n)"/>
<circle cx="830.0" cy="255.0" r="11.2" fill="url(#n)"/>
<circle cx="770.0" cy="260.0" r="11.2" fill="url(#n)"/>
<circle cx="712.7" cy="220.4" r="10.8" fill="url(#r)"/>
<circle cx="485.7" cy="198.1" r="10.4" fill="url(#b)"/>
<circle cx="645.0" cy="215.0" r="10.2" fill="url(#b)"/>
<circle cx="934.8" cy="233.1" r="10.7" fill="url(#r)"/>
<circle cx="736.1" cy="249.9" r="10.8" fill="url(#b)"/>
<circle cx="774.3" cy="281.5" r="8.6" fill="url(#b)"/>
<circle cx="911.8" cy="300.9" r="8.1" fill="url(#r)"/>
<circle cx="955.0" cy="290.0" r="8.0" fill="url(#b)"/>
<circle cx="555.1" cy="198.7" r="8.8" fill="url(#n)"/>
<circle cx="806.3" cy="210.7" r="9.4" fill="url(#r)"/>
<circle cx="672.3" cy="203.4" r="11.1" fill="url(#b)"/>
<circle cx="800.0" cy="245.0" r="11.2" fill="url(#b)"/>
<circle cx="609.4" cy="242.6" r="8.1" fill="url(#g)"/>
<circle cx="760.7" cy="253.4" r="8.3" fill="url(#r)"/>
<circle cx="850.0" cy="265.0" r="8.0" fill="url(#n)"/>
<circle cx="927.5" cy="248.5" r="9.9" fill="url(#g)"/>
<circle cx="779.2" cy="197.4" r="9.7" fill="url(#b)"/>
<circle cx="655.0" cy="200.0" r="11.2" fill="url(#r)"/>
<circle cx="535.0" cy="210.0" r="8.0" fill="url(#r)"/>
<circle cx="658.4" cy="213.6" r="11.8" fill="url(#r)"/>
<circle cx="600.0" cy="280.0" r="11.2" fill="url(#b)"/>
<circle cx="585.0" cy="215.0" r="11.2" fill="url(#b)"/>
<circle cx="582.8" cy="234.5" r="9.8" fill="url(#n)"/>
<circle cx="992.7" cy="289.0" r="8.8" fill="url(#n)"/>
<circle cx="645.0" cy="235.0" r="11.2" fill="url(#g)"/>
<circle cx="805.0" cy="220.0" r="8.0" fill="url(#r)"/>
<circle cx="631.9" cy="279.7" r="12.4" fill="url(#b)"/>
<circle cx="785.9" cy="233.2" r="8.0" fill="url(#r)"/>
<circle cx="543.1" cy="189.8" r="8.6" fill="url(#b)"/>
<circle cx="870.0" cy="260.0" r="8.0" fill="url(#r)"/>
<circle cx="580.0" cy="255.0" r="8.0" fill="url(#n)"/>
<circle cx="857.1" cy="259.1" r="8.6" fill="url(#b)"/>
<circle cx="649.6" cy="269.7" r="11.3" fill="url(#r)"/>
<circle cx="716.8" cy="236.7" r="9.2" fill="url(#r)"/>
<circle cx="624.0" cy="258.7" r="10.6" fill="url(#g)"/>
<circle cx="650.0" cy="255.0" r="10.2" fill="url(#b)"/>
<circle cx="561.5" cy="279.6" r="8.2" fill="url(#r)"/>
<circle cx="572.3" cy="246.3" r="9.0" fill="url(#r)"/>
<circle cx="870.0" cy="300.0" r="11.2" fill="url(#r)"/>
<circle cx="843.3" cy="273.9" r="10.5" fill="url(#r)"/>
<circle cx="597.7" cy="225.8" r="12.3" fill="url(#r)"/>
<circle cx="802.0" cy="234.1" r="10.1" fill="url(#r)"/>
<circle cx="525.8" cy="194.2" r="10.4" fill="url(#r)"/>
<circle cx="500.0" cy="245.0" r="11.2" fill="url(#r)"/>
<circle cx="616.9" cy="271.9" r="8.1" fill="url(#r)"/>
<circle cx="620.0" cy="240.0" r="10.2" fill="url(#n)"/>
<circle cx="525.0" cy="265.0" r="8.0" fill="url(#n)"/>
<circle cx="690.0" cy="225.0" r="10.2" fill="url(#r)"/>
<circle cx="633.3" cy="237.2" r="10.4" fill="url(#r)"/>
<circle cx="565.0" cy="300.0" r="8.0" fill="url(#r)"/>
<circle cx="960.0" cy="230.0" r="11.2" fill="url(#b)"/>
<circle cx="901.8" cy="273.8" r="9.8" fill="url(#b)"/>
<circle cx="946.7" cy="270.5" r="9.2" fill="url(#r)"/>
<circle cx="660.0" cy="295.0" r="11.2" fill="url(#n)"/>
<circle cx="774.0" cy="247.2" r="10.2" fill="url(#b)"/>
<circle cx="937.3" cy="218.1" r="8.9" fill="url(#n)"/>
<circle cx="969.8" cy="242.3" r="12.2" fill="url(#b)"/>
<circle cx="971.4" cy="226.9" r="8.4" fill="url(#n)"/>
<circle cx="695.0" cy="255.0" r="11.2" fill="url(#g)"/>
<circle cx="948.8" cy="240.4" r="9.2" fill="url(#r)"/>
<circle cx="775.0" cy="185.0" r="8.0" fill="url(#b)"/>
<circle cx="557.3" cy="260.3" r="11.7" fill="url(#r)"/>
<circle cx="831.4" cy="211.4" r="9.9" fill="url(#n)"/>
<circle cx="596.4" cy="242.1" r="9.1" fill="url(#r)"/>
<line x1="999" y1="326.4" x2="1059.6" y2="326.4" stroke="#000" stroke-width="3.7"/><path d="M1070.0,326.4 L1056.8,333.0 L1059.6,326.4 L1056.8,319.8 Z" fill="#000"/>
<line x1="480.3" y1="67.2" x2="538.2" y2="113.1" stroke="#000" stroke-width="2.6"/><path d="M545.1,118.6 L533.5,115.5 L538.2,113.1 L539.5,108.0 Z" fill="#000"/>
<line x1="487" y1="365.8" x2="713.8" y2="259.0" stroke="#000" stroke-width="2.6"/><path d="M721.0,255.6 L713.9,263.9 L713.8,259.0 L710.0,255.8 Z" fill="#000"/>
<g font-family="'Liberation Serif', serif" fill="#1a1a1a">
<text x="293" y="62" font-size="43">Spectators</text>
<text x="271" y="373.2" font-size="42.6">Participants</text>
<text x="49.5" y="467" font-size="42.7">Before collision</text>
<text x="639.5" y="468" font-size="42.4">After collision</text>
</g>
</svg></body></html>
